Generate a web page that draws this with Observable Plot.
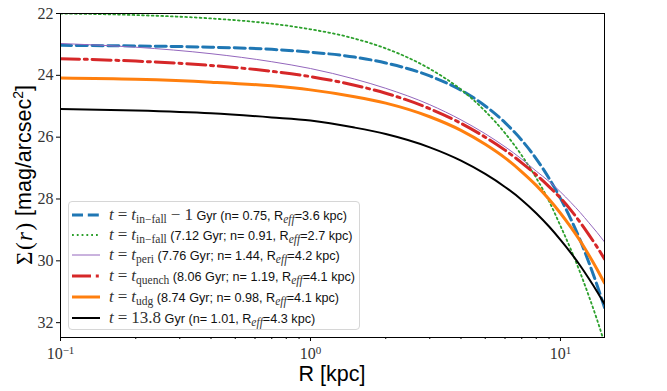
<!DOCTYPE html>
<html>
<head>
<meta charset="utf-8">
<script src="https://cdn.jsdelivr.net/npm/d3@7"></script>
<script src="https://cdn.jsdelivr.net/npm/@observablehq/plot@0.6"></script>
<style>
  html, body { margin: 0; padding: 0; background: white; }
  #wrap { position: relative; width: 667px; height: 391px; overflow: hidden; }
  .ov { position: absolute; white-space: nowrap; color: #000; }
  .m { font-family: "Liberation Serif", serif; }
  .mi { font-family: "Liberation Serif", serif; font-style: italic; }
  .s { font-family: "Liberation Sans", sans-serif; }
  sub { font-size: 0.68em; vertical-align: baseline; position: relative; top: 0.3em; }
  #legend { position: absolute; left: 68px; top: 201px; width: 292px; height: 129px;
            border: 1px solid #d6d6d6; border-radius: 4px; background: rgba(255,255,255,0.85);
            box-sizing: border-box; }
  .row { position: absolute; left: 0; height: 20px; display: flex; align-items: center; }
  .row svg { margin-left: 3px; }
  .row .lt { margin-left: 9px; font-family: "Liberation Sans", sans-serif; font-size: 12.65px; color: #111; white-space: nowrap; }
  .row .lt .m, .row .lt .mi { font-size: 17px; color: #333; }
  .row .lt sub.m, .row .lt sub.mi { font-size: 11.5px; }
  .op { padding: 0 4px; }
</style>
</head>
<body>
<div id="wrap"></div>
<script>
// radius grid (kpc)
const R = [0.1, 0.2, 0.4, 0.7, 1, 1.5, 2, 3, 4, 5, 6, 7, 8, 9, 10, 11, 12, 13, 14, 15];

// surface brightness profiles (mag/arcsec^2)
const muInfallMinus1 = [23.03, 23.05, 23.09, 23.16, 23.25, 23.41, 23.60, 24.02, 24.48, 24.99, 25.53, 26.10, 26.70, 27.33, 27.98, 28.65, 29.34, 30.06, 30.78, 31.51];
const muInfall       = [22.00, 22.05, 22.16, 22.33, 22.51, 22.81, 23.13, 23.79, 24.46, 25.16, 25.87, 26.59, 27.32, 28.07, 28.87, 29.63, 30.39, 31.15, 31.90, 32.66];
const muPeri         = [22.97, 23.09, 23.30, 23.56, 23.78, 24.12, 24.42, 24.95, 25.44, 25.89, 26.31, 26.71, 27.10, 27.43, 27.77, 28.11, 28.44, 28.77, 29.08, 29.39];
const muQuench       = [23.46, 23.54, 23.68, 23.87, 24.04, 24.32, 24.58, 25.08, 25.55, 26.00, 26.42, 26.83, 27.22, 27.60, 27.97, 28.36, 28.76, 29.16, 29.55, 29.94];
const muUdg          = [24.09, 24.13, 24.22, 24.34, 24.47, 24.69, 24.90, 25.34, 25.78, 26.23, 26.67, 27.12, 27.56, 28.01, 28.46, 28.91, 29.36, 29.82, 30.27, 30.72];
const muToday        = [25.09, 25.14, 25.23, 25.36, 25.46, 25.69, 25.90, 26.33, 26.76, 27.19, 27.61, 28.03, 28.46, 28.89, 29.32, 29.74, 30.16, 30.58, 30.99, 31.40];

const seriesValues = [muInfallMinus1, muInfall, muPeri, muQuench, muUdg, muToday];

const T = '<span class="mi">t</span><span class="m op">=</span>';
const legendLabels = [
  T + '<span class="mi">t</span><sub class="m">in−fall</sub><span class="m op">−</span><span class="m">1</span> Gyr (n= 0.75, R<sub class="mi">eff</sub>=3.6 kpc)',
  T + '<span class="mi">t</span><sub class="m">in−fall</sub> (7.12 Gyr; n= 0.91, R<sub class="mi">eff</sub>=2.7 kpc)',
  T + '<span class="mi">t</span><sub class="m">peri</sub> (7.76 Gyr; n= 1.44, R<sub class="mi">eff</sub>=4.2 kpc)',
  T + '<span class="mi">t</span><sub class="m">quench</sub> (8.06 Gyr; n= 1.19, R<sub class="mi">eff</sub>=4.1 kpc)',
  T + '<span class="mi">t</span><sub class="m">udg</sub> (8.74 Gyr; n= 0.98, R<sub class="mi">eff</sub>=4.1 kpc)',
  T + '<span class="m">13.8</span> Gyr (n= 1.01, R<sub class="mi">eff</sub>=4.3 kpc)'
];

const colors = ["#1f77b4", "#2ca02c", "#9467bd", "#d62728", "#ff7f0e", "#000000"];
const widths = [3, 1.8, 1, 3, 3, 2];
const dashes = ["11,4.8", "1.8,3", null, "19,4.8,3,4.8", null, null];

const yTicks = [22, 24, 26, 28, 30, 32];
const xMajor = [0.1, 1, 10];
const xMinor = [0.2, 0.3, 0.4, 0.5, 0.6, 0.7, 0.8, 0.9, 2, 3, 4, 5, 6, 7, 8, 9];

const tables = seriesValues.map(vals => R.map((r, i) => ({R: r, mu: vals[i]})));

const lineMarks = tables.map((t, i) => Plot.line(t, {
  x: "R", y: "mu", stroke: colors[i], strokeWidth: widths[i],
  strokeDasharray: dashes[i] || undefined, curve: "monotone-x", clip: true
}));

const chart = Plot.plot({
  width: 667, height: 391,
  marginLeft: 60, marginRight: 63, marginTop: 13, marginBottom: 54,
  x: {type: "log", domain: [0.1, 15]},
  y: {domain: [22, 32.48], reverse: true},
  style: {background: "white", color: "black"},
  marks: [
    ...lineMarks,
    Plot.axisY({ticks: yTicks, tickSize: 4, tickPadding: 3, label: null, tickFormat: d => String(d),
                fontSize: 16, fontFamily: "Liberation Serif", fill: "#333"}),
    Plot.axisX({ticks: xMajor, tickSize: 4, tickPadding: 6, label: null,
                tickFormat: d => "10^" + String(Math.round(Math.log10(d))).replace("-", "−"),
                fontSize: 16, fontFamily: "Liberation Serif", fill: "#333"}),
    Plot.axisX({ticks: xMinor, tickSize: 2, label: null, tickFormat: () => ""}),
    Plot.frame({stroke: "black", strokeWidth: 1})
  ]
});

const wrap = document.getElementById("wrap");
wrap.appendChild(chart);

// superscript exponents on the log axis; drop empty minor-tick labels
d3.select(chart).selectAll('g[aria-label="x-axis tick label"] text').each(function() {
  const t = this.textContent;
  if (!t) { this.remove(); return; }
  if (!t.includes("^")) return;
  const [b, e] = t.split("^");
  const sel = d3.select(this);
  sel.text(null);
  sel.append("tspan").text(b);
  sel.append("tspan").attr("dy", "-0.45em").attr("font-size", 11).text(e);
});

// axis titles
const yl = document.createElement("div");
yl.className = "ov";
yl.style.cssText = "left:24px;top:175px;transform:translate(-50%,-50%) rotate(-90deg);font-size:21.5px;";
yl.innerHTML = '<span class="m" style="font-size:23px;letter-spacing:1.5px">Σ(<i>r</i>)</span> <span class="s">[mag/arcsec<sup style="font-size:14px">2</sup>]</span>';
wrap.appendChild(yl);

const xl = document.createElement("div");
xl.className = "ov s";
xl.style.cssText = "left:332px;top:374px;transform:translate(-50%,-50%);font-size:21.5px;";
xl.textContent = "R [kpc]";
wrap.appendChild(xl);

// legend
const lg = document.createElement("div");
lg.id = "legend";
const rowTops = [3, 23, 43, 64, 85, 106];
legendLabels.forEach((lab, i) => {
  const row = document.createElement("div");
  row.className = "row";
  row.style.top = rowTops[i] + "px";
  const svg = d3.create("svg").attr("width", 28).attr("height", 20);
  svg.append("line").attr("x1", 0).attr("x2", 28).attr("y1", 10).attr("y2", 10)
    .attr("stroke", colors[i]).attr("stroke-width", widths[i])
    .attr("stroke-dasharray", dashes[i]);
  row.appendChild(svg.node());
  const sp = document.createElement("span");
  sp.className = "lt";
  sp.innerHTML = lab;
  row.appendChild(sp);
  lg.appendChild(row);
});
wrap.appendChild(lg);
</script>
</body>
</html>
